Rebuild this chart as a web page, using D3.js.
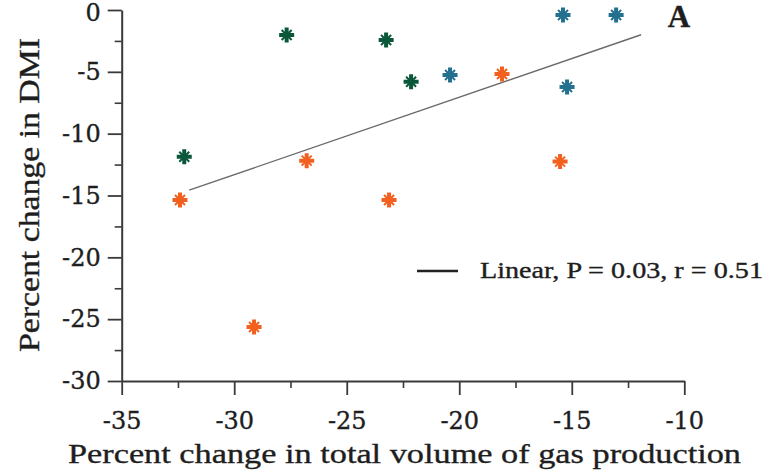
<!DOCTYPE html>
<html>
<head>
<meta charset="utf-8">
<script src="https://cdn.jsdelivr.net/npm/d3@7"></script>
<style>
  html, body { margin: 0; padding: 0; background: #fff; }
  svg { display: block; }
  text { fill: #1e1e1e; stroke: #1e1e1e; stroke-width: 0.35px; }
</style>
</head>
<body>
<svg id="chart" width="769" height="475"></svg>
<script>
// Percent change in gas production (x) vs percent change in DMI (y), by group
const greenX  = [-32.22, -27.67, -23.25, -22.14];
const greenY  = [-11.86,  -2.02,  -2.43,  -5.80];
const blueX   = [-20.41, -15.39, -13.03, -15.21];
const blueY   = [ -5.25,  -0.40,  -0.40,  -6.22];
const orangeX = [-32.41, -29.12, -26.78, -23.12, -18.10, -15.52];
const orangeY = [-15.36, -25.63, -12.18, -15.36,  -5.17, -12.26];

const xTicks = [-35, -30, -25, -20, -15, -10];
const yTicks = [0, -5, -10, -15, -20, -25, -30];
const xMinor = [-32.5, -27.5, -22.5, -17.5, -12.5];
const yMinor = [-2.5, -7.5, -12.5, -17.5, -22.5, -27.5];

// x extent over which the fitted line is drawn
const fitRange = [-32.0, -11.92];

const xTitle = "Percent change in total volume of gas production";
const yTitle = "Percent change in DMI";
const legendText = "Linear, P = 0.03, r = 0.51";
const panelLabel = "A";

const groups = [
  { xs: greenX,  ys: greenY,  color: "#0b573a" },
  { xs: blueX,   ys: blueY,   color: "#23708f" },
  { xs: orangeX, ys: orangeY, color: "#f2601f" }
];

const serif = '"Liberation Serif", "DejaVu Serif", serif';
const tickFont = '"DejaVu Serif", serif';

const svg = d3.select("#chart");
const x = d3.scaleLinear().domain([-35, -10]).range([121.7, 684.3]);
const y = d3.scaleLinear().domain([-30, 0]).range([381, 10]);

// plain hyphen-minus labels
const tickFmt = d => String(d);

const axisColor = "#3a3a3a";

// minor ticks
svg.append("g")
  .attr("transform", `translate(0,${y(-30)})`)
  .call(d3.axisBottom(x).tickValues(xMinor).tickSize(7).tickFormat(""))
  .call(g => g.select(".domain").remove())
  .call(g => g.selectAll("text").remove())
  .call(g => g.selectAll("line").attr("stroke", axisColor).attr("stroke-width", 1.6));
svg.append("g")
  .attr("transform", `translate(${x(-35)},0)`)
  .call(d3.axisLeft(y).tickValues(yMinor).tickSize(7).tickFormat(""))
  .call(g => g.select(".domain").remove())
  .call(g => g.selectAll("text").remove())
  .call(g => g.selectAll("line").attr("stroke", axisColor).attr("stroke-width", 1.6));

// major axes
const xAxis = svg.append("g")
  .attr("transform", `translate(0,${y(-30)})`)
  .call(d3.axisBottom(x).tickValues(xTicks).tickSize(14).tickSizeOuter(0).tickPadding(17).tickFormat(tickFmt));
const yAxis = svg.append("g")
  .attr("transform", `translate(${x(-35)},0)`)
  .call(d3.axisLeft(y).tickValues(yTicks).tickSize(14).tickSizeOuter(0).tickPadding(7).tickFormat(tickFmt));

[xAxis, yAxis].forEach(g => {
  g.attr("font-family", tickFont).attr("font-size", 24);
  g.select(".domain").attr("stroke", axisColor).attr("stroke-width", 2);
  g.selectAll(".tick line").attr("stroke", axisColor).attr("stroke-width", 1.8);
  g.selectAll(".tick text")
    .attr("fill", "#1e1e1e")
    .style("font-family", tickFont)
    .style("font-size", "24px");
});
// keep the top label inside the frame
yAxis.selectAll(".tick text").filter(d => d === 0).attr("dy", "0.45em");

// axis titles
svg.append("text")
  .attr("x", 68).attr("y", 463)
  .style("font-family", serif)
  .style("font-size", "28px")
  .attr("textLength", 673)
  .attr("lengthAdjust", "spacingAndGlyphs")
  .text(xTitle);

svg.append("text")
  .attr("transform", "translate(39,352) rotate(-90)")
  .style("font-family", serif)
  .style("font-size", "29px")
  .attr("textLength", 314)
  .attr("lengthAdjust", "spacingAndGlyphs")
  .text(yTitle);

// least-squares fit over all points
const allX = groups.flatMap(g => g.xs);
const allY = groups.flatMap(g => g.ys);
const mx = d3.mean(allX), my = d3.mean(allY);
const sxy = d3.sum(allX, (v, i) => (v - mx) * (allY[i] - my));
const sxx = d3.sum(allX, v => (v - mx) * (v - mx));
const slope = sxy / sxx, intercept = my - slope * mx;

svg.append("path")
  .datum(fitRange.map(v => [v, intercept + slope * v]))
  .attr("d", d3.line().x(d => x(d[0])).y(d => y(d[1])))
  .attr("fill", "none")
  .attr("stroke", "#6a6a6a")
  .attr("stroke-width", 1.4);

// star markers: heavy plus with short diagonal spokes
const arm = 7.5, diag = 5;
const markerPath =
  `M${-arm},0L${arm},0M0,${-arm}L0,${arm}`;
const diagPath =
  `M${-diag},${-diag}L${diag},${diag}M${-diag},${diag}L${diag},${-diag}`;

groups.forEach(gr => {
  const pts = gr.xs.map((v, i) => [v, gr.ys[i]]);
  const m = svg.append("g").selectAll("g")
    .data(pts).join("g")
    .attr("transform", d => `translate(${x(d[0])},${y(d[1])})`);
  m.append("path").attr("d", markerPath)
    .attr("stroke", gr.color).attr("stroke-width", 4).attr("fill", "none");
  m.append("path").attr("d", diagPath)
    .attr("stroke", gr.color).attr("stroke-width", 2).attr("fill", "none");
});

// legend
svg.append("line")
  .attr("x1", 417).attr("x2", 458).attr("y1", 271).attr("y2", 271)
  .attr("stroke", "#222").attr("stroke-width", 2.5);
svg.append("text")
  .attr("x", 480).attr("y", 278)
  .style("font-family", serif)
  .style("font-size", "23px")
  .attr("textLength", 283)
  .attr("lengthAdjust", "spacingAndGlyphs")
  .text(legendText);

// panel label
svg.append("text")
  .attr("x", 679).attr("y", 27)
  .attr("text-anchor", "middle")
  .style("font-family", serif)
  .style("font-size", "31px")
  .style("font-weight", "bold")
  .text(panelLabel);
</script>
</body>
</html>
